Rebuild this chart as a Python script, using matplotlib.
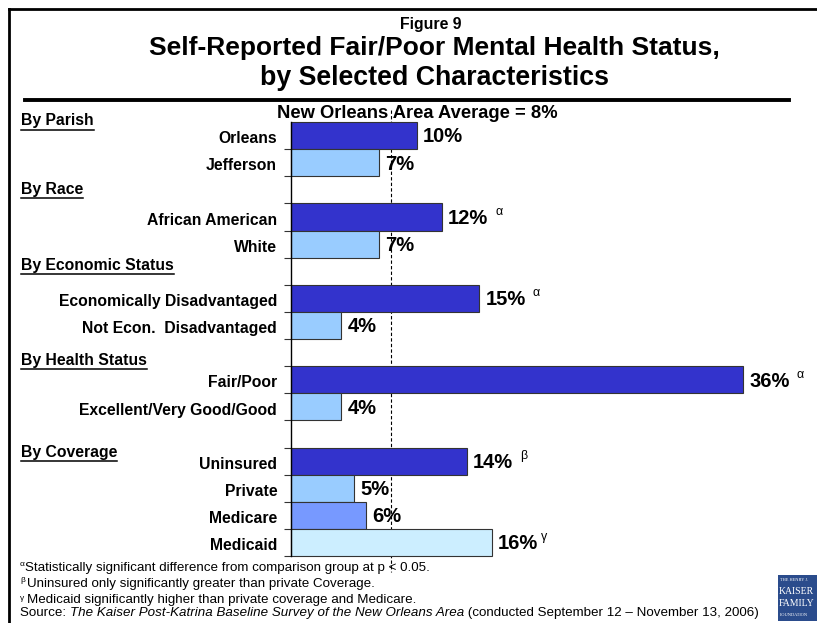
import matplotlib
matplotlib.use("Agg")
import matplotlib.pyplot as plt
from matplotlib.lines import Line2D
from matplotlib.patches import Rectangle

# ---------------- data ----------------
categories = ["Orleans", "Jefferson", "African American", "White",
              "Economically Disadvantaged", "Not Econ.  Disadvantaged",
              "Fair/Poor", "Excellent/Very Good/Good",
              "Uninsured", "Private", "Medicare", "Medicaid"]
values = [10, 7, 12, 7, 15, 4, 36, 4, 14, 5, 6, 16]
significance = ["", "", "α", "", "α", "", "α", "", "β", "", "", "γ"]
groups = ["By Parish", "By Race", "By Economic Status", "By Health Status", "By Coverage"]
average = 8
# slot index of each bar (empty slots separate the groups)
slots = [0, 1, 3, 4, 6, 7, 9, 10, 12, 13, 14, 15]

DARK = "#3333CC"
LIGHT = "#99CCFF"
MED = "#7799FF"
PALE = "#CCEEFF"
bar_colors = [DARK, LIGHT, DARK, LIGHT, DARK, LIGHT, DARK, LIGHT, DARK, LIGHT, MED, PALE]

FONT = ["Liberation Sans", "DejaVu Sans"]
plt.rcParams["font.family"] = FONT

W, H = 817, 623
fig = plt.figure(figsize=(W / 100, H / 100), dpi=100)
fig.patch.set_facecolor("white")


def fx(px):
    return px / W


def fy(py):
    return 1 - py / H


def ftext(px, py, s, **kw):
    return fig.text(fx(px), fy(py), s, **kw)


# ---------------- frame / title ----------------
fig.add_artist(Line2D([fx(9), fx(9)], [fy(9), fy(640)], color="black", lw=2, transform=fig.transFigure))
fig.add_artist(Line2D([fx(9), fx(830)], [fy(9), fy(9)], color="black", lw=2, transform=fig.transFigure))
fig.add_artist(Line2D([fx(25), fx(789)], [fy(100), fy(100)], color="black", lw=2.8, transform=fig.transFigure))

ftext(431, 25, "Figure 9", ha="center", va="center", fontsize=11.4, fontweight="bold")
ftext(434, 48, "Self-Reported Fair/Poor Mental Health Status,", ha="center", va="center",
      fontsize=19, fontweight="bold")
ftext(434, 78, "by Selected Characteristics", ha="center", va="center",
      fontsize=19.3, fontweight="bold")

# ---------------- axes ----------------
left_px, top_px, bottom_px = 291, 122, 556
unit = 12.55  # px per percent
xmax = 40
ax = fig.add_axes([fx(left_px), fy(bottom_px), (xmax * unit) / W, (bottom_px - top_px) / H])
ax.set_facecolor("none")
nslots = 16
bars = ax.barh(slots, values, height=1.0, color=bar_colors, edgecolor="#333333", linewidth=0.8)
for b in bars:
    b.set_clip_on(False)
ax.set_xlim(0, xmax)
ax.set_ylim(nslots - 0.5, -0.5)
for s in ["top", "right", "bottom"]:
    ax.spines[s].set_visible(False)
ax.spines["left"].set_linewidth(1.0)
ax.set_xticks([])
ax.set_yticks([k + 0.5 for k in range(nslots)])
ax.set_yticklabels([])
ax.tick_params(axis="y", length=5, width=0.8, color="#333333", direction="out")

# average line
ax.plot([average, average], [-0.95, 16.1], ls=(0, (3, 2)), color="black", lw=0.8, clip_on=False, zorder=0)
ftext(417, 113, "New Orleans Area Average = 8%", ha="center", va="center", fontsize=13.2, fontweight="bold")

# category labels
for cat, s in zip(categories, slots):
    ax.text(-1.1, s + 0.12, cat, ha="right", va="center", fontsize=11.3, fontweight="bold")

# group headers
header_y = [121, 189, 265, 360, 452]
HFS = 11.3
for g, yy in zip(groups, header_y):
    ftext(21, yy, g, ha="left", va="center", fontsize=HFS, fontweight="bold")

# value labels
labels = []
for v, s in zip(values, slots):
    t = ax.text(v + 0.5, s + 0.05, f"{v}%", ha="left", va="center", fontsize=14.5, fontweight="bold")
    labels.append(t)

fig.canvas.draw()
renderer = fig.canvas.get_renderer()

# underline headers
for g, yy in zip(groups, header_y):
    tt = ftext(21, yy, g, ha="left", va="center", fontsize=HFS, fontweight="bold", alpha=0)
    bb = tt.get_window_extent(renderer)
    tt.remove()
    fig.add_artist(Line2D([bb.x0 / W, bb.x1 / W], [(bb.y0 - 1.5) / H, (bb.y0 - 1.5) / H],
                          color="black", lw=1.1, transform=fig.transFigure))

for t, sig in zip(labels, significance):
    if not sig:
        continue
    bb = t.get_window_extent(renderer)
    gap = 3 if sig == "γ" else 7
    fig.text((bb.x1 + gap) / W, (bb.y1 - 3) / H, sig, ha="left", va="center", fontsize=9)

# ---------------- footnotes ----------------
fs = 9.6
ftext(20, 565, "α", fontsize=6, ha="left", va="center")
ftext(25, 568, "Statistically significant difference from comparison group at p < 0.05.", fontsize=fs, ha="left", va="center")
ftext(20, 580, "β", fontsize=6, ha="left", va="center")
ftext(27, 584, "Uninsured only significantly greater than private Coverage.", fontsize=fs, ha="left", va="center")
ftext(20, 598, "γ", fontsize=6, ha="left", va="center")
ftext(27, 600, "Medicaid significantly higher than private coverage and Medicare.", fontsize=fs, ha="left", va="center")
ysrc = 613
src0 = ftext(20, ysrc, "Source: ", fontsize=fs, ha="left", va="center")
bb0 = src0.get_window_extent(renderer)
src1 = fig.text(bb0.x1 / W, fy(ysrc), "The Kaiser Post-Katrina Baseline Survey of the New Orleans Area",
                fontsize=fs, ha="left", va="center", style="italic")
bb1 = src1.get_window_extent(renderer)
fig.text(bb1.x1 / W, fy(ysrc), " (conducted September 12 \u2013 November 13, 2006)",
         fontsize=fs, ha="left", va="center")

# ---------------- logo ----------------
fig.add_artist(Rectangle((fx(778), fy(621)), (840 - 778) / W, (621 - 575) / H, facecolor="#2B4C8C",
                         edgecolor="none", transform=fig.transFigure))
SERIF = ["Liberation Serif", "DejaVu Serif"]
ftext(780, 580, "THE HENRY J.", fontsize=3.2, color="white", ha="left", va="center", family=SERIF)
ftext(779, 592, "KAISER", fontsize=7.0, color="white", ha="left", va="center", family=SERIF)
ftext(779, 604, "FAMILY", fontsize=7.0, color="white", ha="left", va="center", family=SERIF)
ftext(780, 615, "FOUNDATION", fontsize=3.2, color="white", ha="left", va="center", family=SERIF)

fig.savefig("out.png", dpi=100, facecolor="white")
